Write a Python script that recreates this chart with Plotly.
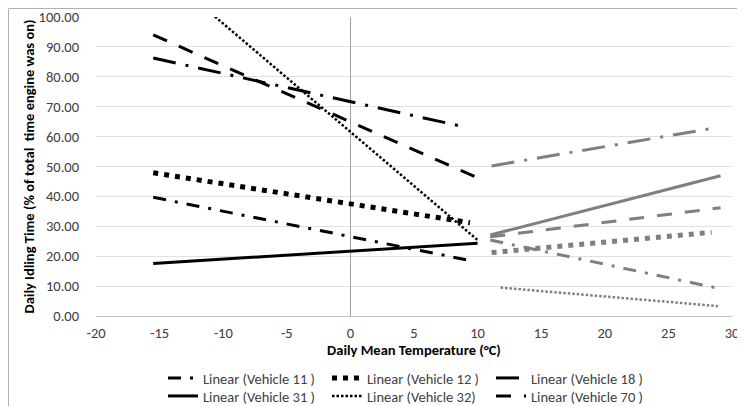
import plotly.graph_objects as go

# ---- data ----
legend_names = ["Linear (Vehicle 11 )", "Linear (Vehicle 12 )", "Linear (Vehicle 18 )",
                "Linear (Vehicle 31 )", "Linear (Vehicle 32)", "Linear (Vehicle 70 )"]
# cold-season (black) trendlines
cold_x_start = [-15.5, -15.5, -15.5, -15.5, -15.5, -15.5]
cold_x_end = [9.6, 9.4, 9.0, 10.0, 10.0, 10.0]
cold_y_start = [39.7, 47.9, 86.3, 17.6, 117.7, 94.0]
cold_y_end = [18.4, 31.2, 63.2, 24.3, 25.4, 46.2]
# warm-season (gray) trendlines
warm_x_start = [11.0, 11.1, 11.1, 11.0, 11.8, 11.0]
warm_x_end = [28.9, 28.4, 28.5, 29.1, 28.9, 29.1]
warm_y_start = [25.4, 21.2, 50.2, 27.1, 9.5, 26.5]
warm_y_end = [9.3, 28.0, 62.8, 46.9, 3.3, 36.2]

x_ticks = [-20, -15, -10, -5, 0, 5, 10, 15, 20, 25, 30]
y_ticks = [0, 10, 20, 30, 40, 50, 60, 70, 80, 90, 100]

# ---- styles ----
dashes = ["13px,9px,3px,9px", "5px,6px", "23px,10px,3px,10px", "solid", "2.5px,2px", "15px,13px"]
widths = [3, 5, 3, 3, 2.5, 3]
BLACK = "#000000"
GRAY = "#7f7f7f"
FONT = "Carlito, Calibri, Lato, sans-serif"
FS = 14.5

# the page adds an 8px body margin, so the figure is laid out 8px smaller
W, H = 737, 398
PL, PR, PT, PB = 88, 724, 9, 308          # plot-area edges in figure pixels
PW, PH = PR - PL, PB - PT

fig = go.Figure()
for i, name in enumerate(legend_names):
    lg = "legend" if i < 3 else "legend2"
    fig.add_trace(go.Scatter(
        x=[cold_x_start[i], cold_x_end[i]], y=[cold_y_start[i], cold_y_end[i]],
        mode="lines", name=name, legend=lg,
        line=dict(color=BLACK, width=widths[i], dash=dashes[i]),
        showlegend=True, hoverinfo="skip"))
for i, name in enumerate(legend_names):
    fig.add_trace(go.Scatter(
        x=[warm_x_start[i], warm_x_end[i]], y=[warm_y_start[i], warm_y_end[i]],
        mode="lines", name=name,
        line=dict(color=GRAY, width=widths[i], dash=dashes[i]),
        showlegend=False, hoverinfo="skip"))

legend_common = dict(orientation="h", xanchor="left", yanchor="middle",
                     font=dict(family=FONT, size=FS, color="#404040"),
                     entrywidth=119, entrywidthmode="pixels",
                     bgcolor="rgba(0,0,0,0)", itemwidth=30, tracegroupgap=0)

fig.update_layout(
    width=W, height=H,
    margin=dict(l=PL, r=W - PR, t=PT, b=H - PB, autoexpand=False),
    paper_bgcolor="white", plot_bgcolor="white",
    font=dict(family=FONT, size=FS, color="#404040"),
    xaxis=dict(range=[-20, 30], tickvals=x_ticks, ticktext=[str(v) for v in x_ticks],
               showgrid=False, zeroline=True, zerolinecolor="#a0a0a0", zerolinewidth=1,
               showline=False, ticks="", ticklabelstandoff=6, automargin=False,
               tickfont=dict(family=FONT, size=FS, color="#404040"),
               title=dict(text="<b>Daily Mean Temperature (°C)</b>", standoff=0,
                          font=dict(family=FONT, size=14.5, color="#000000"))),
    yaxis=dict(range=[0, 100], tickvals=y_ticks, ticktext=[f"{v:.2f}" for v in y_ticks],
               showgrid=True, gridcolor="#e0e0e0", gridwidth=1,
               zeroline=True, zerolinecolor="#c0c0c0", zerolinewidth=1,
               showline=False, ticks="", ticklabelstandoff=16, automargin=False,
               tickfont=dict(family=FONT, size=FS, color="#404040"),
               title=dict(text="<b>Daily Idling Time (% of total  time engine was on)</b>", standoff=0,
                          font=dict(family=FONT, size=14.5, color="#000000"))),
    legend=dict(x=(163 - 96) / 636, y=(316 - 378) / 299, **legend_common),
    legend2=dict(x=(163 - 96) / 636, y=(316 - 396) / 299, **legend_common),
    shapes=[dict(type="rect", xref="paper", yref="paper",
                 x0=(0.5 - PL) / PW, x1=(760 - PL) / PW,
                 y0=(PB - 420) / PH, y1=(PB - 0.5) / PH,
                 line=dict(color="#b0b0b0", width=1), fillcolor="rgba(0,0,0,0)", layer="below")],
    showlegend=True,
)

fig.write_html("out.html")
